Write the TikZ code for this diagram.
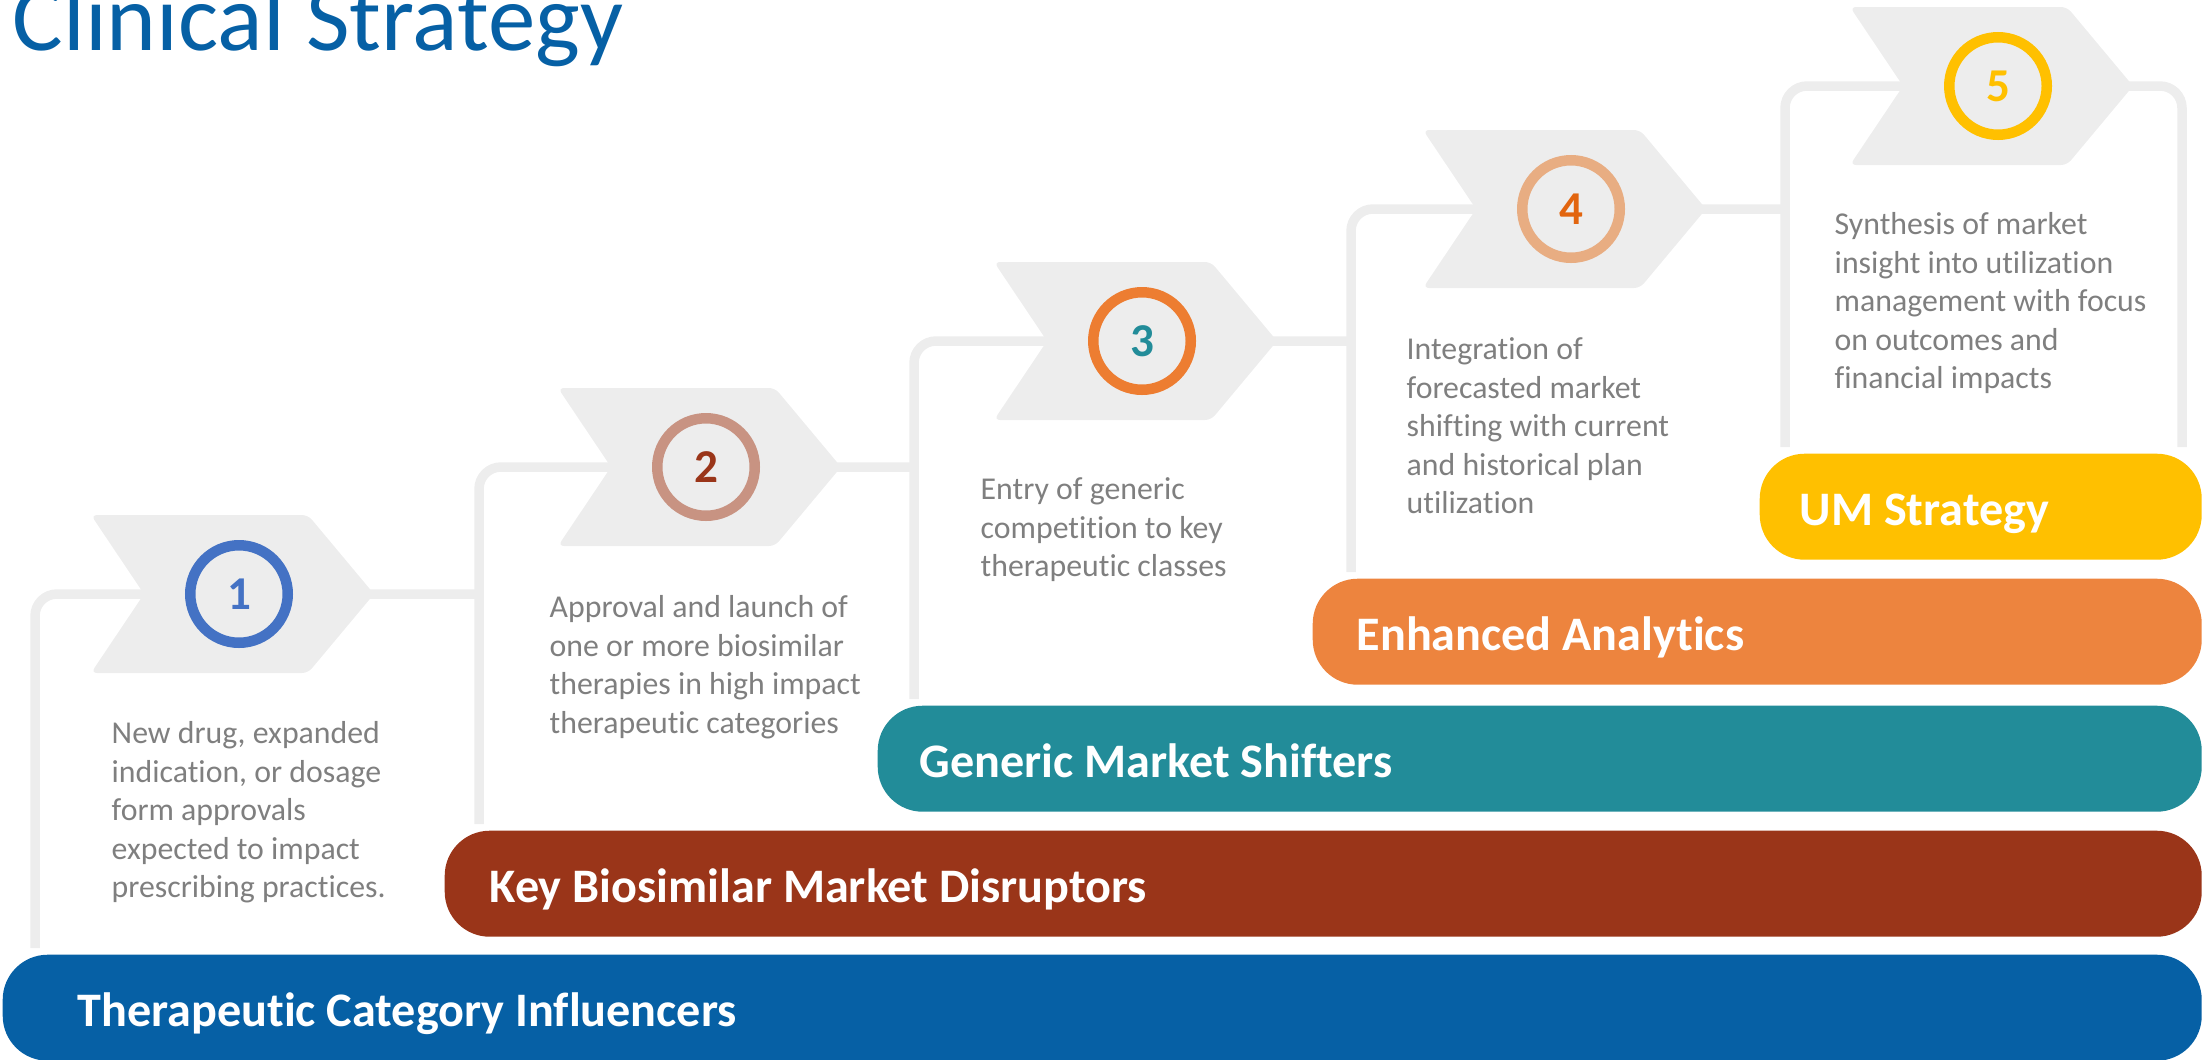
\documentclass[tikz,border=0pt]{standalone}
\usepackage{xcolor}
\usepackage{tikz}
\usepackage{fontspec}
\setmainfont{Carlito}[Ligatures=NoCommon]
\usetikzlibrary{positioning}

\definecolor{tcblue}{HTML}{0660A5}
\definecolor{kbbrown}{HTML}{9A3519}
\definecolor{gmteal}{HTML}{228C99}
\definecolor{eaorange}{HTML}{ED843E}
\definecolor{umyellow}{HTML}{FFC000}
\definecolor{trackgray}{HTML}{EDEDED}
\definecolor{notegray}{HTML}{7F7F7F}
\definecolor{ringblue}{HTML}{4472C4}
\definecolor{ringrose}{HTML}{C89382}
\definecolor{ringorange}{HTML}{ED7D31}
\definecolor{ringpeach}{HTML}{E8AD82}
\definecolor{numorange}{HTML}{E2650F}

\begin{document}
\begin{tikzpicture}[
    bar/.style={rectangle, rounded corners=0.45cm, minimum height=1.06cm, inner sep=0pt, anchor=north west},
    barlabel/.style={text=white, font=\fontsize{13.7}{16}\selectfont\bfseries, inner sep=0pt, anchor=base west},
    track/.style={draw=trackgray, line width=0.095cm, rounded corners=0.22cm},
    chev/.style={fill=trackgray, rounded corners=0.06cm},
    ring/.style={circle, draw, line width=0.105cm, minimum size=0.975cm, inner sep=0pt, font=\fontsize{13.4}{16}\selectfont\bfseries},
    note/.style={text=notegray, font=\fontsize{9.05}{10.95}\selectfont, align=left, anchor=north west, inner sep=0pt}
  ]
      \useasboundingbox (0,0) rectangle (22.12,-10.59);
      \clip (0,0) rectangle (22.12,-10.59);

      % Title (cut at the top edge)
      \node[anchor=base west, inner sep=0pt, text=tcblue, font=\fontsize{27}{32}\selectfont] (title) at (0.12,-0.507) {Clinical Strategy};

      % Step centres and track columns
      \coordinate (c1) at (2.39,-5.94);
      \coordinate (c2) at (7.06,-4.67);
      \coordinate (c3) at (11.42,-3.41);
      \coordinate (c4) at (15.71,-2.09);
      \coordinate (c5) at (19.98,-0.86);
      \coordinate (v1) at (0.35,0);
      \coordinate (v2) at (4.79,0);
      \coordinate (v3) at (9.14,0);
      \coordinate (v4) at (13.51,0);
      \coordinate (v5) at (17.85,0);
      \coordinate (v6) at (21.82,0);

      % Bars, bottom to top
      \node[bar, fill=tcblue, minimum width=21.99cm] (tci) at (0.02,-9.54) {};
      \node[bar, fill=kbbrown, minimum width=17.57cm] (kbm) at (4.44,-8.30) {};
      \node[bar, fill=gmteal, minimum width=13.24cm] (gms) at (8.77,-7.05) {};
      \node[bar, fill=eaorange, minimum width=8.89cm] (ena) at (13.12,-5.78) {};
      \node[bar, fill=umyellow, minimum width=4.42cm] (ums) at (17.59,-4.53) {};

      \node[barlabel] (tcilabel) at ([xshift=0.75cm, yshift=-0.19cm]tci.west) {Therapeutic Category Influencers};
      \node[barlabel] (kbmlabel) at ([xshift=0.45cm, yshift=-0.19cm]kbm.west) {Key Biosimilar Market Disruptors};
      \node[barlabel] (gmslabel) at ([xshift=0.42cm, yshift=-0.19cm]gms.west) {Generic Market Shifters};
      \node[barlabel] (enalabel) at ([xshift=0.44cm, yshift=-0.19cm]ena.west) {Enhanced Analytics};
      \node[barlabel] (umslabel) at ([xshift=0.40cm, yshift=-0.19cm]ums.west) {UM Strategy};

      % Gray stair tracks
      \draw[track] ([yshift=0.06cm]tci.north -| v1) |- (c1 -| v2);
      \draw[track] ([yshift=0.06cm]kbm.north -| v2) |- (c2 -| v3);
      \draw[track] ([yshift=0.06cm]gms.north -| v3) |- (c3 -| v4);
      \draw[track] ([yshift=0.06cm]ena.north -| v4) |- (c4 -| v5);
      \draw[track] ([yshift=0.06cm]ums.north -| v5) |- (c5 -| v6) [sharp corners] -- ([yshift=0.06cm]ums.north -| v6);

      % Chevrons
      \fill[chev] ([shift={(-1.48,0.79)}]c1) -- ++(2.17,0) -- ++(0.66,-0.79) -- ++(-0.66,-0.79) -- ++(-2.17,0) -- ++(0.53,0.79) -- cycle;
      \fill[chev] ([shift={(-1.48,0.79)}]c2) -- ++(2.17,0) -- ++(0.66,-0.79) -- ++(-0.66,-0.79) -- ++(-2.17,0) -- ++(0.53,0.79) -- cycle;
      \fill[chev] ([shift={(-1.48,0.79)}]c3) -- ++(2.17,0) -- ++(0.66,-0.79) -- ++(-0.66,-0.79) -- ++(-2.17,0) -- ++(0.53,0.79) -- cycle;
      \fill[chev] ([shift={(-1.48,0.79)}]c4) -- ++(2.17,0) -- ++(0.66,-0.79) -- ++(-0.66,-0.79) -- ++(-2.17,0) -- ++(0.53,0.79) -- cycle;
      \fill[chev] ([shift={(-1.48,0.79)}]c5) -- ++(2.17,0) -- ++(0.66,-0.79) -- ++(-0.66,-0.79) -- ++(-2.17,0) -- ++(0.53,0.79) -- cycle;

      % Numbered rings
      \node[ring, draw=ringblue, text=ringblue] (s1) at (c1) {1};
      \node[ring, draw=ringrose, text=kbbrown] (s2) at (c2) {2};
      \node[ring, draw=ringorange, text=gmteal] (s3) at (c3) {3};
      \node[ring, draw=ringpeach, text=numorange] (s4) at (c4) {4};
      \node[ring, draw=umyellow, text=umyellow] (s5) at (c5) {5};

      % Step notes
      \node[note] (note1) at (1.11,-7.21) {New drug, expanded\\indication, or dosage\\form approvals\\expected to impact\\prescribing practices.};
      \node[note] (note2) at (5.49,-5.95) {Approval and launch of\\one or more biosimilar\\therapies in high impact\\therapeutic categories};
      \node[note] (note3) at (9.80,-4.77) {Entry of generic\\competition to key\\therapeutic classes};
      \node[note] (note4) at (14.06,-3.37) {Integration of\\forecasted market\\shifting with current\\and historical plan\\utilization};
      \node[note] (note5) at (18.34,-2.12) {Synthesis of market\\insight into utilization\\management with focus\\on outcomes and\\financial impacts};
    \end{tikzpicture}
\end{document}
